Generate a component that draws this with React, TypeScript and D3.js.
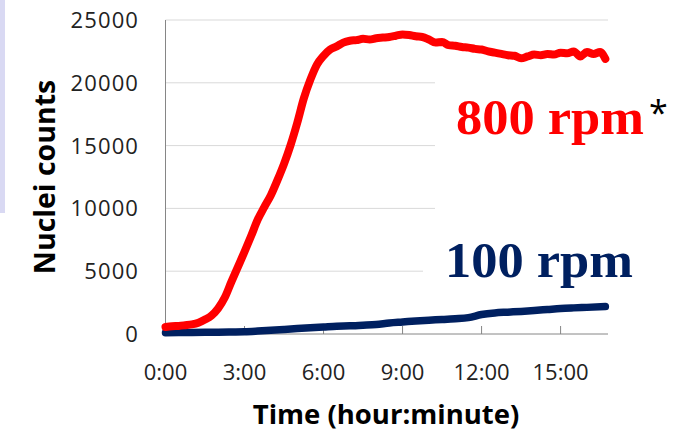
import React from "react";
import * as d3 from "d3";

const W = 687;
const H = 433;

// time in hours
const redTimes = [0,0.25,0.5,0.75,1,1.25,1.5,1.75,2,2.25,2.5,2.75,3,3.25,3.5,3.75,4,4.25,4.5,4.75,5,5.25,5.5,5.75,6,6.25,6.5,6.75,7,7.25,7.5,7.75,8,8.25,8.5,8.75,9,9.25,9.5,9.75,10,10.25,10.5,10.75,11,11.25,11.5,11.75,12,12.25,12.5,12.75,13,13.25,13.5,13.75,14,14.25,14.5,14.75,15,15.25,15.5,15.75,16,16.25,16.5,16.7];
const red800 = [560,620,640,700,770,900,1150,1480,2050,2900,4150,5350,6550,7800,9100,10100,11050,12250,13550,15050,16800,18750,20250,21450,22150,22650,22900,23200,23350,23400,23500,23450,23550,23600,23650,23750,23850,23800,23700,23650,23450,23200,23250,23000,22950,22850,22800,22700,22650,22500,22400,22300,22200,22150,21950,22100,22250,22200,22300,22250,22400,22350,22500,22100,22450,22300,22450,21900];

const blueTimes = [0,0.5,1,1.5,2,2.5,3,3.5,4,4.5,5,5.5,6,6.5,7,7.5,8,8.5,9,9.5,10,10.5,11,11.5,12,12.5,13,13.5,14,14.5,15,15.5,16,16.7];
const blue100 = [100,110,120,130,140,160,180,230,290,360,430,500,560,620,650,700,760,880,960,1040,1100,1150,1210,1300,1550,1680,1740,1800,1870,1950,2030,2080,2120,2180];

const xTickHours = [0, 3, 6, 9, 12, 15];
const xTickLabels = ["0:00", "3:00", "6:00", "9:00", "12:00", "15:00"];
const yTicks = [0, 5000, 10000, 15000, 20000, 25000];

export default function App() {
  const x = d3.scaleLinear().domain([0, 16.8]).range([165.5, 608]);
  const y = d3.scaleLinear().domain([0, 25000]).range([334, 20]);

  const line = d3
    .line<[number, number]>()
    .x((d) => x(d[0]))
    .y((d) => y(d[1]))
    .curve(d3.curveMonotoneX);

  const redPts = redTimes.map((t, i) => [t, red800[i]] as [number, number]);
  const bluePts = blueTimes.map((t, i) => [t, blue100[i]] as [number, number]);

  const sans = "'Open Sans', sans-serif";
  const serif = "'Liberation Serif', serif";

  return (
    <svg
      width={W}
      height={H}
      style={{ position: "absolute", left: 0, top: 0, background: "#fff" }}
    >
      <rect x={0} y={0} width={W} height={H} fill="#fff" />
      <rect x={0} y={0} width={5} height={213} fill="#d9d9f3" />

      {/* gridlines */}
      {yTicks.filter((v) => v > 0).map((v) => (
        <line key={v} x1={x(0)} x2={608} y1={y(v)} y2={y(v)} stroke="#d9d9d9" strokeWidth={1} />
      ))}

      {/* axes */}
      <line x1={x(0)} x2={x(0)} y1={y(25000)} y2={y(0)} stroke="#868686" strokeWidth={1} />
      <line x1={x(0)} x2={608} y1={y(0)} y2={y(0)} stroke="#868686" strokeWidth={1} />
      {xTickHours.filter((h) => h > 0).map((h) => (
        <line key={h} x1={x(h)} x2={x(h)} y1={y(0) - 8} y2={y(0)} stroke="#868686" strokeWidth={1} />
      ))}

      {/* y tick labels */}
      {yTicks.map((v) => (
        <text key={v} x={139} y={y(v)} dy="0.36em" textAnchor="end" fontFamily={sans} fontSize={22} letterSpacing={1.1} fill="#222">
          {v}
        </text>
      ))}

      {/* x tick labels */}
      {xTickHours.map((h, i) => (
        <text key={h} x={x(h)} y={380} textAnchor="middle" fontFamily={sans} fontSize={22} fill="#222">
          {xTickLabels[i]}
        </text>
      ))}

      {/* data lines */}
      <path d={line(bluePts) || ""} fill="none" stroke="#002060" strokeWidth={7.5} strokeLinejoin="round" strokeLinecap="round" />
      <path d={line(redPts) || ""} fill="none" stroke="#ff0000" strokeWidth={8} strokeLinejoin="round" strokeLinecap="round" />

      {/* text boxes */}
      <rect x={435} y={66} width={252} height={155} fill="#fff" />
      <rect x={423} y={232} width={264} height={62} fill="#fff" />

      <text x={456} y={134} fontFamily={serif} fontWeight="bold" fontSize={50} textLength={188} lengthAdjust="spacingAndGlyphs" fill="#ff0000">
        800 rpm
      </text>
      <text x={649} y={125} fontFamily={sans} fontSize={34} fill="#000">
        *
      </text>
      <text x={445} y={277} fontFamily={serif} fontWeight="bold" fontSize={50} textLength={188} lengthAdjust="spacingAndGlyphs" fill="#002060">
        100 rpm
      </text>

      {/* axis titles */}
      <text
        transform="translate(55,177) rotate(-90)"
        textAnchor="middle"
        fontFamily={sans}
        fontWeight="bold"
        fontSize={28.5}
        fill="#000"
      >
        Nuclei counts
      </text>
      <text x={386} y={424} textAnchor="middle" fontFamily={sans} fontWeight="bold" fontSize={27.5} fill="#000">
        Time (hour:minute)
      </text>
    </svg>
  );
}
